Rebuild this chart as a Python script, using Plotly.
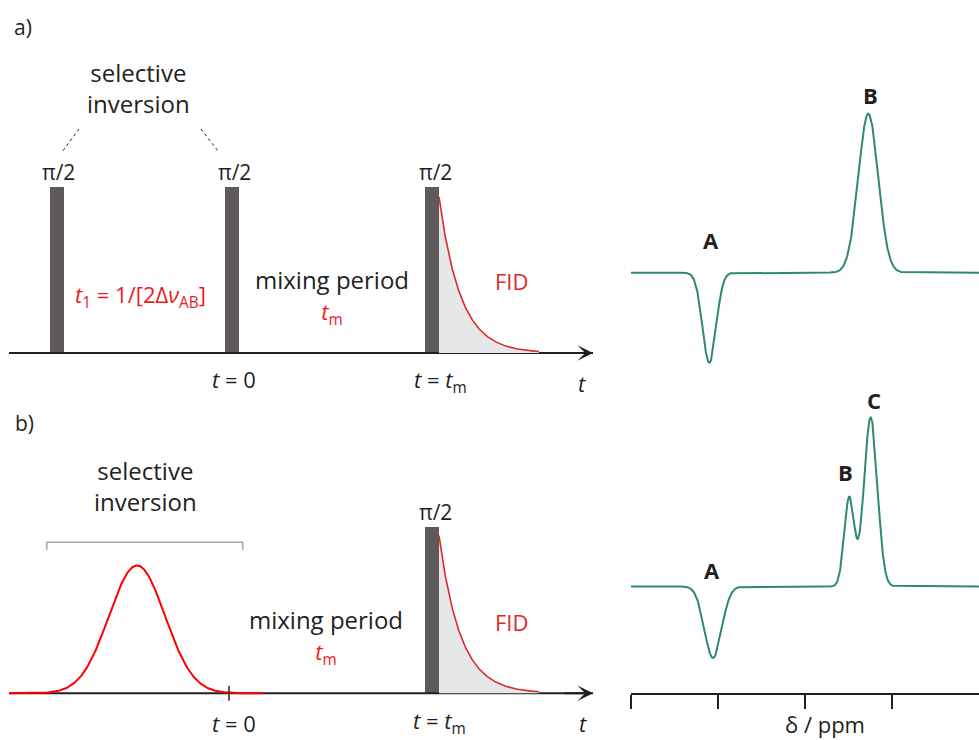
import numpy as np
import plotly.graph_objects as go

W, H = 979, 740
INK = "#231f20"
RED = "#ed1c24"
FID_RED = "#dc2a26"
PULSE = "#5e5a59"
TEAL = "#2f8774"
FONT = "Open Sans"

# ---- pulse-sequence timing (arbitrary time units, t = 0 at the second pulse) ----
pulse_times_a = [-1.75, 0.0, 2.0]
pulse_times_b = [2.0]
pulse_height = 1.0
pulse_width = 0.14
t_mix = 2.0
fid_start_amp = [0.94, 0.95]
fid_tau = 0.215
fid_length = 1.0
shaped_center = -0.95
shaped_amp = 0.77
shaped_sigma = 0.28
shaped_span = [-2.23, 0.31]
time_axis_span = [-2.23, 3.61]

# ---- 1D spectra: peak centres (ppm), amplitudes, gaussian widths (ppm) ----
spec_a_labels = ["A", "B"]
spec_a_ppm = [3.10, 1.272]
spec_a_amp = [-0.90, 1.59]
spec_a_sig = [0.078, 0.114]

spec_b_labels = ["A", "B", "C"]
spec_b_ppm = [3.057, 1.491, 1.245]
spec_b_amp = [-0.715, 0.89, 1.69]
spec_b_sig = [0.098, 0.0575, 0.077]

ppm_ticks = [4, 3, 2, 1]


def P(x, y):
    """pixel position -> paper coordinates"""
    return x / W, 1 - y / H


def spectrum(ppm, centres, amps, sigs):
    out = np.zeros_like(ppm)
    for c, a, s in zip(centres, amps, sigs):
        out += a * np.exp(-0.5 * ((ppm - c) / s) ** 2)
    return out


fig = go.Figure()

# ---------------- pulse sequences ----------------
for xa, ya, pulses, famp in (("x", "y", pulse_times_a, fid_start_amp[0]),
                             ("x2", "y2", pulse_times_b, fid_start_amp[1])):
    # time axis baseline
    fig.add_trace(go.Scatter(x=time_axis_span, y=[0, 0], mode="lines",
                             line=dict(color=INK, width=2), xaxis=xa, yaxis=ya,
                             hoverinfo="skip"))
    # FID after the last pulse
    t0 = t_mix + pulse_width / 2
    tf = np.linspace(t0, t0 + fid_length, 200)
    fig.add_trace(go.Scatter(x=tf, y=famp * np.exp(-(tf - t0) / fid_tau), mode="lines",
                             line=dict(color=FID_RED, width=1.6), fill="tozeroy",
                             fillcolor="#e6e7e8", xaxis=xa, yaxis=ya, hoverinfo="skip"))
    # hard pulses
    fig.add_trace(go.Bar(x=pulses, y=[pulse_height] * len(pulses), width=pulse_width,
                         marker=dict(color=PULSE, line=dict(width=0)),
                         xaxis=xa, yaxis=ya, hoverinfo="skip"))

# selective (gaussian) inversion pulse in b
ts = np.linspace(shaped_span[0], shaped_span[1], 400)
fig.add_trace(go.Scatter(x=ts, y=shaped_amp * np.exp(-0.5 * ((ts - shaped_center) / shaped_sigma) ** 2),
                         mode="lines", line=dict(color="#ff0000", width=2),
                         xaxis="x2", yaxis="y2", hoverinfo="skip"))

# ---------------- spectra ----------------
ppm = np.linspace(0, 4, 1200)
fig.add_trace(go.Scatter(x=ppm, y=spectrum(ppm, spec_a_ppm, spec_a_amp, spec_a_sig),
                         mode="lines", line=dict(color=TEAL, width=2),
                         xaxis="x3", yaxis="y3", hoverinfo="skip"))
fig.add_trace(go.Scatter(x=ppm, y=spectrum(ppm, spec_b_ppm, spec_b_amp, spec_b_sig),
                         mode="lines", line=dict(color=TEAL, width=2),
                         xaxis="x3", yaxis="y4", hoverinfo="skip"))

hidden = dict(visible=False, showgrid=False, zeroline=False, fixedrange=True)
fig.update_layout(
    width=W, height=H, margin=dict(l=0, r=0, t=0, b=0),
    paper_bgcolor="white", plot_bgcolor="rgba(0,0,0,0)",
    showlegend=False, barmode="overlay", bargap=0,
    xaxis=dict(domain=[0, 600 / W], range=[-2.32, 3.68], anchor="y", **hidden),
    yaxis=dict(domain=[1 - 400 / H, 1 - 130 / H], range=[-0.2831, 1.3434], anchor="x", **hidden),
    xaxis2=dict(domain=[0, 600 / W], range=[-2.32, 3.68], anchor="y2", **hidden),
    yaxis2=dict(domain=[0, 1 - 480 / H], range=[-0.2813, 1.2849], anchor="x2", **hidden),
    xaxis3=dict(domain=[631 / W, 1], range=[4, 0], anchor="y4", showgrid=False,
                zeroline=False, showline=True, linecolor=INK, linewidth=1.5,
                ticks="outside", ticklen=14, tickwidth=1.5, tickcolor=INK,
                tickvals=ppm_ticks, showticklabels=False, fixedrange=True),
    yaxis3=dict(domain=[1 - 400 / H, 1 - 60 / H], range=[-1.273, 2.127], anchor="x3", **hidden),
    yaxis4=dict(domain=[1 - 693.3 / H, 1 - 380 / H], range=[-1.068, 2.065], anchor="x3", **hidden),
)

# arrowheads at the end of the time axes
for xa, ya in (("x", "y"), ("x2", "y2")):
    fig.add_annotation(x=time_axis_span[1], y=0, ax=time_axis_span[1] - 0.3, ay=0,
                       xref=xa, yref=ya, axref=xa, ayref=ya, text="",
                       showarrow=True, arrowhead=3, arrowsize=1.3, arrowwidth=2,
                       arrowcolor=INK)

# t = 0 tick mark in b
fig.add_shape(type="line", xref="x2", yref="y2", x0=-0.03, x1=-0.03, y0=-0.045, y1=0.045,
              line=dict(color=INK, width=1.5))

# bracket over the selective inversion pulse in b
fig.add_shape(type="path", xref="x2", yref="y2",
              path="M -1.853 0.863 L -1.853 0.91 L 0.107 0.91 L 0.107 0.863",
              line=dict(color="#a7a9ac", width=1.6))

# dotted leaders from "selective inversion" to the first two pulses in a
for (x0, y0), (x1, y1) in (((79, 129), (62, 152)), ((201, 129), (218, 151))):
    a0, b0 = P(x0, y0)
    a1, b1 = P(x1, y1)
    fig.add_shape(type="line", xref="paper", yref="paper", x0=a0, y0=b0, x1=a1, y1=b1,
                  line=dict(color=INK, width=1, dash="dot"))


def label(text, x, y, size=22, color=INK, bold=False, yanchor="middle"):
    px, py = P(x, y)
    fig.add_annotation(x=px, y=py, xref="paper", yref="paper", text=text,
                       showarrow=False, xanchor="center", yanchor=yanchor, borderpad=0,
                       font=dict(family=FONT, size=size, color=color,
                                 weight="bold" if bold else "normal"))


tm = "<i>t</i><sub>m</sub>"
mixing = ("mixing period<br><span style='color:%s;font-size:22px'>%s</span>" % (RED, tm))

# panel a
label("a)", 23, 27, size=21)
label("selective<br>inversion", 138, 88, size=24)
label("π/2", 58, 172, size=21)
label("π/2", 234, 172, size=21)
label("π/2", 435, 172, size=21)
label("<i>t</i><sub>1</sub> = 1/[2Δ<i>ν</i><sub>AB</sub>]", 140, 296, size=22, color=RED)
label(mixing, 332, 296, size=24)
label("FID", 511, 281, size=22, color=FID_RED)
label("<i>t</i> = 0", 234, 379, size=22)
label("<i>t</i> = " + tm, 440, 381, size=22)
label("<i>t</i>", 582, 383, size=22)

# panel b
label("b)", 24, 423, size=21)
label("selective<br>inversion", 145, 486, size=24)
label("π/2", 435, 512, size=21)
label(mixing, 326, 636, size=24)
label("FID", 511, 622, size=22, color=FID_RED)
label("<i>t</i> = 0", 234, 739, size=22, yanchor="bottom")
label("<i>t</i> = " + tm, 439, 740, size=22, yanchor="bottom")
label("<i>t</i>", 583, 739, size=22, yanchor="bottom")

# spectra peak labels and δ axis title
label("A", 711, 240, bold=True)
label("B", 870, 95, bold=True)
label("A", 712, 570, bold=True)
label("B", 845, 472, bold=True)
label("C", 874, 400, bold=True)
label("δ / ppm", 825, 740, size=22, yanchor="bottom")

fig.write_html("out.html")
